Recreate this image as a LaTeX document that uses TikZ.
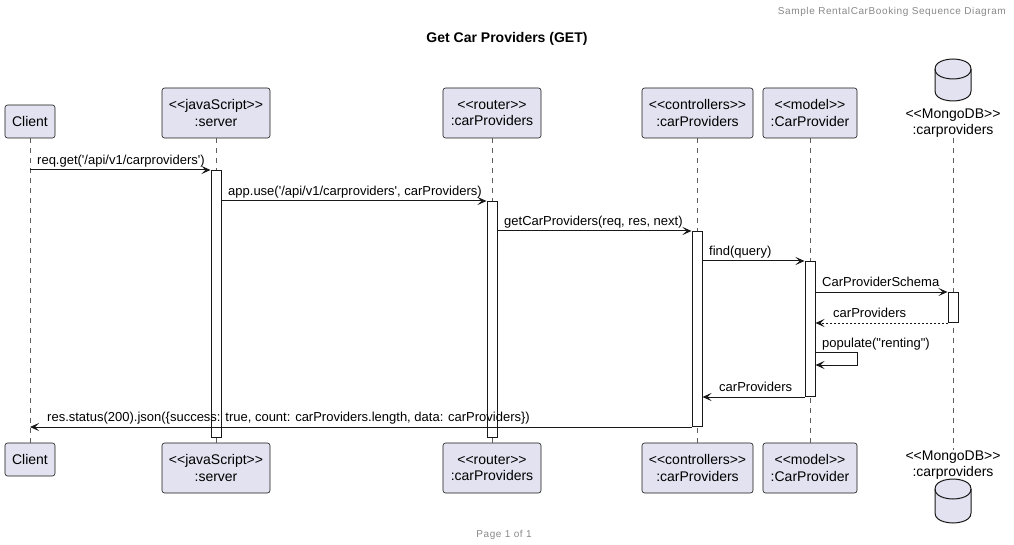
\documentclass[tikz,border=0pt]{standalone}
\usepackage{fontspec}
\setmainfont{Liberation Sans}[Ligatures=TeXOff]
\usetikzlibrary{arrows.meta}
\definecolor{partfill}{HTML}{E2E2F0}
\definecolor{lineclr}{HTML}{181818}
\definecolor{hdrgray}{HTML}{888888}
\tikzset{
  part/.style={draw=lineclr, fill=partfill, line width=0.6pt, rounded corners=2.5pt, align=center, inner sep=0pt, font=\fontsize{14}{16.5}\selectfont},
  dblabel/.style={align=center, inner sep=0pt, font=\fontsize{14}{16.5}\selectfont},
  life/.style={draw=lineclr!70, line width=0.6pt, dash pattern=on 5pt off 5pt},
  act/.style={draw=lineclr, fill=white, line width=1pt, minimum width=10pt, inner sep=0pt, anchor=north},
  msg/.style={draw=lineclr, line width=1pt, -{Stealth[length=9pt,width=8pt,inset=4pt]}},
  ret/.style={msg, dash pattern=on 2pt off 2pt},
  mlabel/.style={anchor=base west, inner sep=0pt, font=\fontsize{13}{15}\selectfont},
  db/.style={draw=lineclr, fill=partfill, line width=1pt},
  small/.style={inner sep=0pt, text=hdrgray, font=\fontsize{10}{12}\selectfont\addfontfeatures{LetterSpace=6}},
}
\begin{document}
\begin{tikzpicture}[x=1pt,y=-1pt]
\useasboundingbox (0,0) rectangle (1014,545);
% header / title / footer
\node[small, anchor=base east] (hdr) at (1006,15) {Sample RentalCarBooking Sequence Diagram};
\node[anchor=base, inner sep=0pt, font=\bfseries\fontsize{14}{16}\selectfont] (title) at (507,43) {Get Car Providers (GET)};
\node[small, anchor=base] (ftr) at (504,537) {Page 1 of 1};

% participants top
\node[part, minimum width=50pt, minimum height=33pt] (cli) at (30,121.5) {Client};
\node[part, minimum width=108pt, minimum height=50pt] (srv) at (216,113) {<<javaScript>>\\:server};
\node[part, minimum width=98pt, minimum height=50pt] (rtr) at (492,113) {<<router>>\\:carProviders};
\node[part, minimum width=111pt, minimum height=50pt] (ctl) at (697.5,113) {<<controllers>>\\:carProviders};
\node[part, minimum width=94pt, minimum height=50pt] (mod) at (810,113) {<<model>>\\:CarProvider};
\node[dblabel] (dbT) at (953,123) {<<MongoDB>>\\:carproviders};
% participants bottom
\node[part, minimum width=50pt, minimum height=33pt] (cliB) at (30,459.5) {Client};
\node[part, minimum width=108pt, minimum height=50pt] (srvB) at (216,468) {<<javaScript>>\\:server};
\node[part, minimum width=98pt, minimum height=50pt] (rtrB) at (492,468) {<<router>>\\:carProviders};
\node[part, minimum width=111pt, minimum height=50pt] (ctlB) at (697.5,468) {<<controllers>>\\:carProviders};
\node[part, minimum width=94pt, minimum height=50pt] (modB) at (810,468) {<<model>>\\:CarProvider};
\node[dblabel] (dbB) at (953,465) {<<MongoDB>>\\:carproviders};

% database cylinders
\draw[db] (935,69) .. controls (935,59) and (953,59) .. (953,59) .. controls (953,59) and (971,59) .. (971,69) -- (971,91) .. controls (971,101) and (953,101) .. (953,101) .. controls (953,101) and (935,101) .. (935,91) -- cycle;
\draw[db, fill=none] (935,69) .. controls (935,79) and (953,79) .. (953,79) .. controls (953,79) and (971,79) .. (971,69);
\draw[db] (935,489) .. controls (935,479) and (953,479) .. (953,479) .. controls (953,479) and (971,479) .. (971,489) -- (971,513) .. controls (971,523) and (953,523) .. (953,523) .. controls (953,523) and (935,523) .. (935,513) -- cycle;
\draw[db, fill=none] (935,489) .. controls (935,499) and (953,499) .. (953,499) .. controls (953,499) and (971,499) .. (971,489);

% lifelines
\draw[life] (cli.south) -- (cliB.north);
\draw[life] (srv.south) -- (srvB.north);
\draw[life] (rtr.south -| 492,0) -- (rtrB.north -| 492,0);
\draw[life] (ctl.south -| 697,0) -- (ctlB.north -| 697,0);
\draw[life] (mod.south) -- (modB.north);
\draw[life] (dbT.south) -- (dbB.north);

% activations
\node[act, minimum height=267pt] (aSrv) at (216,170) {};
\node[act, minimum height=236pt] (aRtr) at (492,201) {};
\node[act, minimum height=195pt] (aCtl) at (697,231) {};
\node[act, minimum height=135pt] (aMod) at (810,261) {};
\node[act, minimum height=30pt] (aDb) at (953,292) {};

% messages
\draw[msg] (cli.south |- aSrv.north) -- (aSrv.north west);
\node[mlabel] (l1) at (37,165) {req.get('/api/v1/carproviders')};
\draw[msg] (aSrv.east |- aRtr.north) -- (aRtr.north west);
\node[mlabel] (l2) at (228,196) {app.use('/api/v1/carproviders', carProviders)};
\draw[msg] (aRtr.east |- aCtl.north) -- (aCtl.north west);
\node[mlabel] (l3) at (504,226) {getCarProviders(req, res, next)};
\draw[msg] (aCtl.east |- aMod.north) -- (aMod.north west);
\node[mlabel] (l4) at (709,256) {find(query)};
\draw[msg] (aMod.east |- aDb.north) -- (aDb.north west);
\node[mlabel] (l5) at (822,287) {CarProviderSchema};
\draw[ret] (aDb.south west) -- (aMod.east |- aDb.south);
\node[mlabel] (l6) at (833,317) {carProviders};
\coordinate (selfA) at (aMod.east |- 0,352);
\coordinate (selfB) at (aMod.east |- 0,365);
\draw[msg] (selfA) -- ++(42,0) |- (selfB);
\node[mlabel] (l7) at (822,347) {populate("renting")};
\draw[msg] (aMod.south west) -- (aCtl.east |- aMod.south);
\node[mlabel] (l8) at (719,391) {carProviders};
\draw[msg] (aCtl.south west) -- (cli.south |- aCtl.south);
\node[mlabel] (l9) at (47,421) {res.status(200).json(\{success: true, count: carProviders.length, data: carProviders\})};
\end{tikzpicture}
\end{document}
